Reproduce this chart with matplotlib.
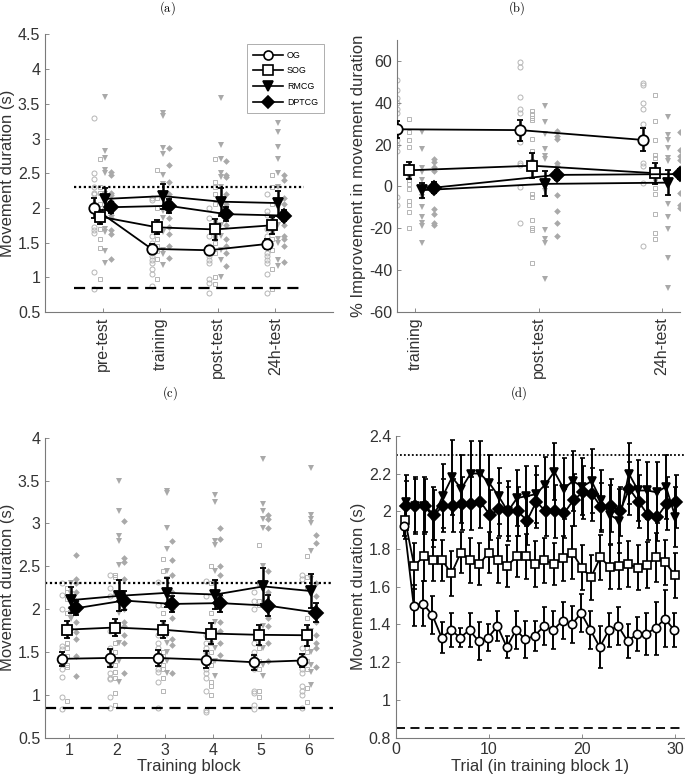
import matplotlib
matplotlib.use("Agg")
import matplotlib.pyplot as plt
from matplotlib.lines import Line2D
from matplotlib.ticker import FormatStrFormatter

plt.rcParams['font.family'] = ['Liberation Sans', 'DejaVu Sans']
plt.rcParams['mathtext.fontset'] = 'cm'

groups = ["OG", "SOG", "RMCG", "DPTCG"]

# (a) movement duration per session
a_sessions = ["pre-test", "training", "post-test", "24h-test"]
a_mean = {
    "OG": [2.00, 1.41, 1.39, 1.48],
    "SOG": [1.875, 1.72, 1.69, 1.75],
    "RMCG": [2.13, 2.17, 2.09, 2.07],
    "DPTCG": [2.01, 2.03, 1.91, 1.89],
}
a_err = {
    "OG": [0.14, 0.07, 0.06, 0.07],
    "SOG": [0.10, 0.10, 0.15, 0.12],
    "RMCG": [0.16, 0.18, 0.20, 0.18],
    "DPTCG": [0.08, 0.10, 0.10, 0.08],
}
a_og_pts = [[3.30, 2.50, 2.42, 2.30, 2.22, 2.20, 2.05, 1.95, 1.72, 1.68, 1.64, 1.07, 0.83],
            [2.15, 2.12, 1.60, 1.50, 1.45, 1.40, 1.35, 1.30, 1.25, 1.20, 1.12, 1.05, 0.88],
            [2.00, 1.85, 1.60, 1.45, 1.35, 1.30, 1.25, 1.20, 0.97, 0.92, 0.78],
            [2.20, 1.95, 1.90, 1.70, 1.60, 1.45, 1.35, 1.30, 1.25, 1.20, 1.05, 0.78]]
a_sog_pts = [[2.71, 2.30, 2.22, 2.05, 1.95, 1.88, 1.80, 1.70, 1.55, 1.42, 0.98],
             [2.55, 2.15, 2.00, 1.75, 1.65, 1.55, 1.45, 1.38, 1.27, 0.98],
             [2.70, 2.38, 2.30, 2.20, 2.05, 1.80, 1.60, 1.50, 1.35, 1.00, 0.90],
             [2.48, 2.30, 2.05, 1.85, 1.78, 1.65, 1.55, 1.40, 1.12, 0.83]]
a_rmcg_pts = [[3.60, 2.82, 2.72, 2.55, 2.50, 2.20, 2.15, 1.95, 1.70, 1.65, 1.38, 1.20],
              [3.37, 3.32, 2.87, 2.77, 2.47, 2.35, 2.20, 1.95, 1.85, 1.65, 1.40, 1.33, 1.18],
              [3.58, 2.90, 2.70, 2.50, 2.45, 2.30, 2.10, 1.75, 1.60, 1.40, 1.25, 1.00],
              [3.23, 3.10, 2.88, 2.70, 2.50, 2.30, 2.00, 1.75, 1.55, 1.50, 1.25, 1.17]]
a_dptcg_pts = [[2.52, 2.47, 2.22, 2.18, 2.10, 2.00, 1.90, 1.85, 1.68, 1.62, 1.27],
               [2.87, 2.62, 2.37, 2.20, 2.10, 2.00, 1.85, 1.72, 1.62, 1.45, 1.28],
               [2.67, 2.48, 2.45, 2.20, 2.05, 1.90, 1.75, 1.55, 1.45, 1.35, 1.17],
               [2.48, 2.40, 2.15, 2.05, 1.90, 1.75, 1.60, 1.55, 1.45, 1.22]]

# (b) % improvement relative to pre-test
b_sessions = ["training", "post-test", "24h-test"]
b_mean = {
    "OG": [27.3, 26.9, 22.2],
    "SOG": [7.7, 9.9, 6.3],
    "RMCG": [-1.8, 1.2, 1.8],
    "DPTCG": [-0.6, 5.5, 5.9],
}
b_err = {
    "OG": [4.0, 5.0, 5.5],
    "SOG": [4.0, 6.0, 5.0],
    "RMCG": [3.5, 6.0, 6.0],
    "DPTCG": [2.5, 2.5, 2.5],
}
b_og_pts = [[51, 46, 42, 40, 37, 35, 28, 22, 20, 17, -5, -9],
            [59.5, 57, 42.5, 37, 35, 26, 21, 11, 10, -0.5, -17.5],
            [49.3, 48.5, 40, 36.8, 30, 23.7, 11, 9.7, 1.7, -28.6]]
b_sog_pts = [[32, 26, 22, 19, 5, 3, 1, -1, -7, -9, -12, -20],
             [36, 34.5, 32.5, 31.5, 22.5, 17, 12, 10, -3.5, -5, -16, -20, -21, -36.5],
             [43.7, 31.3, 22.2, 15, 13.4, 3.9, -0.9, -3.6, -13.2, -22.4, -25.3]]
b_rmcg_pts = [[26, 18, 8.6, 7, 3, -5, -9.6, -14.4, -17.6, -19, -27],
              [38.4, 30.8, 24.9, 17.7, 14.5, 12.9, 2.6, -2.2, -20.8, -25.3, -27.2, -44.4],
              [33.2, 24.6, 22, 18.5, 13.8, 12.2, -8.5, -14.8, -20.4, -34.3, -48.3]]
b_dptcg_pts = [[13, 11.5, 9.5, 7.5, 1, -1, -11, -13, -17.5, -18.5],
               [26.5, 24, 22.5, 11.3, 9.7, 5, -4.3, -11.7, -17.5, -23.9],
               [25.8, 17.4, 14.6, 12.5, 9, -3, -8.9, -10.1]]

# (c) movement duration per training block
c_blocks = [1, 2, 3, 4, 5, 6]
c_mean = {
    "OG": [1.42, 1.43, 1.43, 1.41, 1.38, 1.40],
    "SOG": [1.76, 1.785, 1.76, 1.715, 1.70, 1.695],
    "RMCG": [2.105, 2.155, 2.19, 2.17, 2.265, 2.21],
    "DPTCG": [2.01, 2.10, 2.06, 2.07, 2.04, 1.96],
}
c_err = {
    "OG": [0.08, 0.10, 0.09, 0.10, 0.09, 0.08],
    "SOG": [0.10, 0.10, 0.10, 0.12, 0.12, 0.12],
    "RMCG": [0.15, 0.18, 0.17, 0.17, 0.21, 0.20],
    "DPTCG": [0.08, 0.11, 0.09, 0.10, 0.12, 0.11],
}
c_og_pts = [[2.30, 2.17, 2.00, 1.57, 1.53, 1.45, 1.38, 1.30, 1.21, 0.98, 0.83],
            [2.40, 2.25, 2.15, 1.75, 1.55, 1.35, 1.25, 1.20, 1.18, 0.98, 0.85],
            [2.32, 2.05, 1.70, 1.60, 1.55, 1.45, 1.30, 1.27, 1.15, 0.85],
            [2.33, 2.15, 1.70, 1.60, 1.55, 1.50, 1.30, 1.25, 1.20, 1.05, 0.82, 0.80],
            [2.20, 2.10, 2.00, 1.60, 1.50, 1.45, 1.35, 1.30, 1.05, 1.02, 0.88, 0.83],
            [2.40, 2.35, 1.55, 1.45, 1.30, 1.25, 1.10, 1.05, 1.00, 0.85]]
c_sog_pts = [[2.25, 2.20, 2.12, 1.95, 1.60, 1.55, 1.45, 1.35, 1.32, 0.93],
             [2.40, 2.38, 2.20, 1.80, 1.60, 1.50, 1.35, 1.27, 1.20, 1.02, 0.88],
             [2.58, 2.45, 2.05, 1.95, 1.85, 1.50, 1.45, 1.35, 1.30, 1.20, 1.05],
             [2.50, 2.30, 1.95, 1.60, 1.50, 1.40, 1.35, 1.15, 1.10, 1.00],
             [2.75, 2.30, 2.10, 2.05, 1.75, 1.55, 1.40, 1.30, 1.05, 0.98],
             [2.62, 2.38, 2.25, 1.90, 1.55, 1.50, 1.40, 1.30, 1.08, 0.92]]
c_rmcg_pts = [[2.30, 2.18, 2.12, 2.08, 2.00, 1.95, 1.90, 1.88, 1.75],
              [3.50, 3.15, 2.85, 2.80, 2.52, 2.10, 1.95, 1.75, 1.60, 1.40, 1.15],
              [3.38, 3.35, 2.95, 2.70, 2.45, 2.35, 2.20, 1.70, 1.60, 1.50, 1.40, 1.25],
              [3.33, 3.25, 2.80, 2.75, 2.45, 2.30, 1.85, 1.70, 1.55, 1.40, 1.22],
              [3.75, 3.23, 3.15, 3.05, 2.95, 2.50, 2.30, 1.80, 1.55, 1.35, 1.22],
              [3.65, 3.10, 3.05, 3.00, 2.68, 2.35, 1.75, 1.50, 1.35, 1.27, 1.12]]
c_dptcg_pts = [[2.63, 2.35, 2.30, 2.20, 2.10, 2.00, 1.85, 1.73, 1.65, 1.45, 1.22],
               [3.03, 2.60, 2.55, 2.35, 2.00, 1.85, 1.80, 1.70, 1.60, 1.25],
               [2.80, 2.57, 2.40, 2.20, 2.00, 1.90, 1.65, 1.58, 1.25],
               [2.95, 2.82, 2.50, 2.40, 2.15, 1.85, 1.75, 1.60, 1.47],
               [3.10, 3.05, 2.95, 2.45, 2.20, 1.90, 1.80, 1.60, 1.40],
               [2.87, 2.77, 2.30, 2.15, 2.00, 1.85, 1.70, 1.60, 1.55, 1.33]]

# (d) movement duration per trial in training block 1
d_trials = list(range(1, 31))
d_mean = {
    "OG": [1.92, 1.50, 1.51, 1.45, 1.33, 1.37, 1.33, 1.37, 1.31, 1.33,
           1.39, 1.28, 1.37, 1.32, 1.34, 1.39, 1.37, 1.42, 1.40, 1.46,
           1.37, 1.28, 1.37, 1.39, 1.31, 1.35, 1.35, 1.38, 1.43, 1.37],
    "SOG": [1.955, 1.71, 1.76, 1.74, 1.74, 1.67, 1.78, 1.74, 1.72, 1.78,
            1.74, 1.71, 1.76, 1.76, 1.72, 1.74, 1.72, 1.75, 1.78, 1.70,
            1.65, 1.755, 1.705, 1.71, 1.72, 1.70, 1.715, 1.755, 1.73, 1.66],
    "RMCG": [2.05, 2.03, 2.03, 1.97, 2.08, 2.18, 2.12, 2.20, 2.20, 2.15,
             2.08, 2.00, 2.07, 2.08, 2.09, 2.14, 2.21, 2.12, 2.16, 2.13,
             2.16, 2.06, 1.98, 1.95, 2.20, 2.11, 2.11, 2.10, 2.13, 1.97],
    "DPTCG": [2.03, 2.03, 2.03, 1.98, 2.03, 2.03, 2.04, 2.04, 2.05, 1.98,
              2.01, 2.00, 2.00, 1.95, 2.05, 2.00, 2.00, 1.99, 2.06, 2.10,
              2.09, 2.02, 2.03, 2.00, 2.12, 2.05, 1.98, 1.97, 2.04, 2.05],
}
d_err = {
    "OG": [0.05, 0.11, 0.12, 0.10, 0.08, 0.09, 0.05, 0.09, 0.10, 0.07,
           0.08, 0.06, 0.10, 0.10, 0.08, 0.10, 0.10, 0.10, 0.10, 0.10,
           0.10, 0.11, 0.09, 0.10, 0.09, 0.09, 0.11, 0.14, 0.15, 0.09],
    "SOG": [0.10, 0.12, 0.13, 0.11, 0.11, 0.12, 0.11, 0.12, 0.11, 0.11,
            0.12, 0.11, 0.11, 0.12, 0.12, 0.12, 0.11, 0.12, 0.14, 0.12,
            0.12, 0.12, 0.12, 0.12, 0.12, 0.12, 0.12, 0.13, 0.12, 0.12],
    "RMCG": [0.14, 0.15, 0.15, 0.16, 0.17, 0.20, 0.18, 0.17, 0.17, 0.15,
             0.15, 0.16, 0.15, 0.16, 0.15, 0.15, 0.15, 0.16, 0.16, 0.15,
             0.17, 0.16, 0.16, 0.17, 0.16, 0.16, 0.15, 0.16, 0.17, 0.16],
    "DPTCG": [0.13, 0.14, 0.14, 0.13, 0.14, 0.14, 0.14, 0.14, 0.14, 0.13,
              0.14, 0.13, 0.13, 0.13, 0.14, 0.13, 0.14, 0.13, 0.14, 0.14,
              0.14, 0.13, 0.14, 0.13, 0.14, 0.14, 0.13, 0.13, 0.14, 0.14],
}

slow_line = 2.3
fast_line = 0.85

offsets = {"OG": -0.15, "SOG": -0.05, "RMCG": 0.05, "DPTCG": 0.15}
mean_style = {
    "OG": dict(marker='o', mfc='white'),
    "SOG": dict(marker='s', mfc='white'),
    "RMCG": dict(marker='v', mfc='black'),
    "DPTCG": dict(marker='D', mfc='black'),
}
pt_style = {
    "OG": dict(marker='o', mfc='none', mec='#b5b5b5', ms=3.6, mew=0.7),
    "SOG": dict(marker='s', mfc='none', mec='#b5b5b5', ms=3.2, mew=0.7),
    "RMCG": dict(marker='v', mfc='#a9a9a9', mec='#a9a9a9', ms=4.2, mew=0),
    "DPTCG": dict(marker='D', mfc='#a9a9a9', mec='#a9a9a9', ms=3.4, mew=0),
}
spine_col = '#7a7a7a'
text_col = '#333333'


def style_axes(ax):
    for s in ['top', 'right']:
        ax.spines[s].set_visible(False)
    for s in ['left', 'bottom']:
        ax.spines[s].set_color(spine_col)
        ax.spines[s].set_linewidth(0.8)
    ax.tick_params(direction='in', length=3, width=0.6, color=spine_col,
                   labelcolor=text_col, labelsize=11.5)
    ax.yaxis.set_major_formatter(FormatStrFormatter('%g'))


def draw_points(ax, xs, pts, g):
    for x, vals in zip(xs, pts):
        ax.plot([x + offsets[g]] * len(vals), vals, ls='none', zorder=1, **pt_style[g])


def draw_means(ax, xs, means, errs, g, ms=7.5, lw=1.3, elw=1.8):
    ax.errorbar([x + offsets[g] for x in xs], means, yerr=errs, color='black',
                mec='black', ms=ms, mew=1.3, lw=lw, elinewidth=elw, capsize=2,
                capthick=elw, zorder=5, **mean_style[g])


fig = plt.figure(figsize=(6.85, 7.82), dpi=100)

# (a)
ax = fig.add_axes([0.0657, 0.601, 0.4203, 0.355])
style_axes(ax)
a_x = [1, 2, 3, 4]
for g, pts in zip(groups, [a_og_pts, a_sog_pts, a_rmcg_pts, a_dptcg_pts]):
    draw_points(ax, a_x, pts, g)
ax.plot([0.5, 4.5], [slow_line, slow_line], ls=(0, (1, 1.2)), color='black', lw=1.6, zorder=2)
ax.plot([0.5, 4.5], [fast_line, fast_line], ls=(0, (5, 3)), color='black', lw=1.6, zorder=2)
for g in groups:
    draw_means(ax, a_x, a_mean[g], a_err[g], g)
ax.set_xlim(0, 5)
ax.set_ylim(0.5, 4.5)
ax.set_yticks([0.5, 1, 1.5, 2, 2.5, 3, 3.5, 4, 4.5])
ax.set_xticks(a_x)
ax.set_xticklabels(a_sessions, rotation=90)
ax.set_ylabel("Movement duration (s)", fontsize=12, color=text_col, labelpad=2)
handles = [Line2D([], [], color='black', lw=1.2, mec='black', ms=6.5, mew=1.2, **mean_style[g])
           for g in groups]
leg = ax.legend(handles, groups, loc='upper right', bbox_to_anchor=(0.985, 0.98), fontsize=6.4,
                frameon=True, fancybox=False, handlelength=3.4,
                borderpad=0.7, labelspacing=0.75, handletextpad=0.4)
leg.get_frame().set_edgecolor('#999999')
leg.get_frame().set_linewidth(0.7)

# (b)
ax = fig.add_axes([0.5796, 0.601, 0.4131, 0.348])
style_axes(ax)
b_x = [1, 2, 3]
for g, pts in zip(groups, [b_og_pts, b_sog_pts, b_rmcg_pts, b_dptcg_pts]):
    draw_points(ax, b_x, pts, g)
for g in groups:
    draw_means(ax, b_x, b_mean[g], b_err[g], g)
ax.set_xlim(0.85, 3.15)
ax.set_ylim(-60, 70)
ax.set_yticks([-60, -40, -20, 0, 20, 40, 60])
ax.set_xticks(b_x)
ax.set_xticklabels(b_sessions, rotation=90)
ax.set_ylabel("% Improvement in movement duration", fontsize=12, color=text_col, labelpad=2)

# (c)
ax = fig.add_axes([0.0657, 0.0567, 0.4203, 0.3836])
style_axes(ax)
for g, pts in zip(groups, [c_og_pts, c_sog_pts, c_rmcg_pts, c_dptcg_pts]):
    draw_points(ax, c_blocks, pts, g)
ax.plot([0.5, 6.5], [slow_line, slow_line], ls=(0, (1, 1.2)), color='black', lw=1.6, zorder=2)
ax.plot([0.5, 6.5], [fast_line, fast_line], ls=(0, (5, 3)), color='black', lw=1.6, zorder=2)
for g in groups:
    draw_means(ax, c_blocks, c_mean[g], c_err[g], g, ms=7)
ax.set_xlim(0.5, 6.5)
ax.set_ylim(0.5, 4)
ax.set_yticks([0.5, 1, 1.5, 2, 2.5, 3, 3.5, 4])
ax.set_xticks(c_blocks)
ax.set_xlabel("Training block", fontsize=12, color=text_col, labelpad=1)
ax.set_ylabel("Movement duration (s)", fontsize=12, color=text_col, labelpad=2)

# (d)
ax = fig.add_axes([0.578, 0.0569, 0.421, 0.3858])
style_axes(ax)
ax.plot([0, 31], [slow_line, slow_line], ls=(0, (1, 1.2)), color='black', lw=1.3, zorder=2)
ax.plot([0, 31], [fast_line, fast_line], ls=(0, (5, 3)), color='black', lw=1.3, zorder=2)
for g in ["RMCG", "DPTCG", "SOG", "OG"]:
    ax.errorbar([t + offsets[g] * 0.6 for t in d_trials], d_mean[g], yerr=d_err[g],
                color='black', mec='black', ms=6, mew=1.2, lw=1.3, elinewidth=1.4,
                capsize=1.8, capthick=1.4, zorder=5, **mean_style[g])
ax.set_xlim(0, 31)
ax.set_ylim(0.8, 2.4)
ax.set_yticks([0.8, 1, 1.2, 1.4, 1.6, 1.8, 2, 2.2, 2.4])
ax.set_xticks([0, 10, 20, 30])
ax.set_xlabel("Trial (in training block 1)", fontsize=12, color=text_col, labelpad=1)
ax.set_ylabel("Movement duration (s)", fontsize=12, color=text_col, labelpad=2)

# subfigure captions
for x, y, s in [(0.244, 0.99, '(a)'), (0.755, 0.99, '(b)'),
                (0.248, 0.497, '(c)'), (0.757, 0.497, '(d)')]:
    fig.text(x, y, r'$\mathrm{' + s + '}$', ha='center', va='center', fontsize=9)

fig.savefig("out.png", dpi=100)
